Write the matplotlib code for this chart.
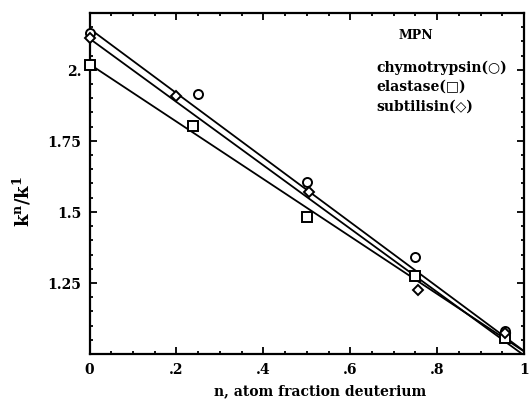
import matplotlib
matplotlib.use("Agg")
from matplotlib import pyplot as plt
from matplotlib.ticker import MultipleLocator, FixedLocator

# measured points (n, k^n/k^1)
chymo_x = [0.0, 0.25, 0.50, 0.75, 0.955]
chymo_y = [2.131, 1.916, 1.604, 1.342, 1.080]
elast_x = [0.0, 0.237, 0.50, 0.75, 0.955]
elast_y = [2.018, 1.801, 1.481, 1.275, 1.055]
subt_x = [0.0, 0.20, 0.505, 0.755, 0.955]
subt_y = [2.113, 1.907, 1.569, 1.224, 1.075]

# fitted lines (endpoints at n=0 and n=1)
line_x = [0.0, 1.0]
chymo_fit = [2.145, 1.010]
subt_fit = [2.110, 0.995]
elast_fit = [2.020, 1.009]

x_ticks = [0, 0.2, 0.4, 0.6, 0.8, 1.0]
x_labels = ["0", ".2", ".4", ".6", ".8", "1"]
y_ticks = [1.25, 1.5, 1.75, 2.0]
y_labels = ["1.25", "1.5", "1.75", "2."]

plt.rcParams['font.family'] = ['DejaVu Serif', 'DejaVu Sans']
plt.rcParams['font.weight'] = 'bold'
plt.rcParams['mathtext.fontset'] = 'dejavuserif'

fig = plt.figure(figsize=(5.3, 4.02), dpi=100)
ax = fig.add_axes([0.1689, 0.1169, 0.8200, 0.8483])

# regression lines
for fit in (chymo_fit, subt_fit, elast_fit):
    ax.plot(line_x, fit, color='black', lw=1.3)

# data points
mk = dict(linestyle='none', markerfacecolor='white', markeredgecolor='black',
          markeredgewidth=1.4, clip_on=False, zorder=5)
ax.plot(chymo_x, chymo_y, marker='o', markersize=6.5, **mk)
ax.plot(elast_x, elast_y, marker='s', markersize=6.5, **mk)
ax.plot(subt_x, subt_y, marker='D', markersize=5, **mk)

ax.set_xlim(0, 1)
ax.set_ylim(1.0, 2.2)
ax.xaxis.set_major_locator(FixedLocator(x_ticks))
ax.set_xticklabels(x_labels)
ax.xaxis.set_minor_locator(MultipleLocator(0.05))
ax.yaxis.set_major_locator(FixedLocator(y_ticks))
ax.set_yticklabels(y_labels)
ax.yaxis.set_minor_locator(MultipleLocator(0.05))

ax.tick_params(which='both', direction='in', top=True, right=True, width=1.3)
ax.tick_params(which='major', length=5, labelsize=10, pad=6)
ax.tick_params(which='minor', length=2.5)
for s in ax.spines.values():
    s.set_linewidth(1.6)

ax.set_xlabel("n, atom fraction deuterium", fontsize=10, fontweight='bold')
ax.xaxis.set_label_coords(0.53, -0.085)
ax.set_ylabel("$\\mathbf{k^n/k^1}$", fontsize=13)
ax.yaxis.set_label_coords(-0.13, 0.45)

ax.text(0.712, 0.938, "MPN", transform=ax.transAxes, fontsize=9,
        fontweight='bold', va='center')
ax.text(0.66, 0.842, "chymotrypsin(○)", transform=ax.transAxes, fontsize=10,
        fontweight='bold', va='center')
ax.text(0.66, 0.786, "elastase(□)", transform=ax.transAxes, fontsize=10,
        fontweight='bold', va='center')
ax.text(0.66, 0.727, "subtilisin(◇)", transform=ax.transAxes, fontsize=10,
        fontweight='bold', va='center')

fig.savefig("out.png", dpi=100)
plt.close(fig)
